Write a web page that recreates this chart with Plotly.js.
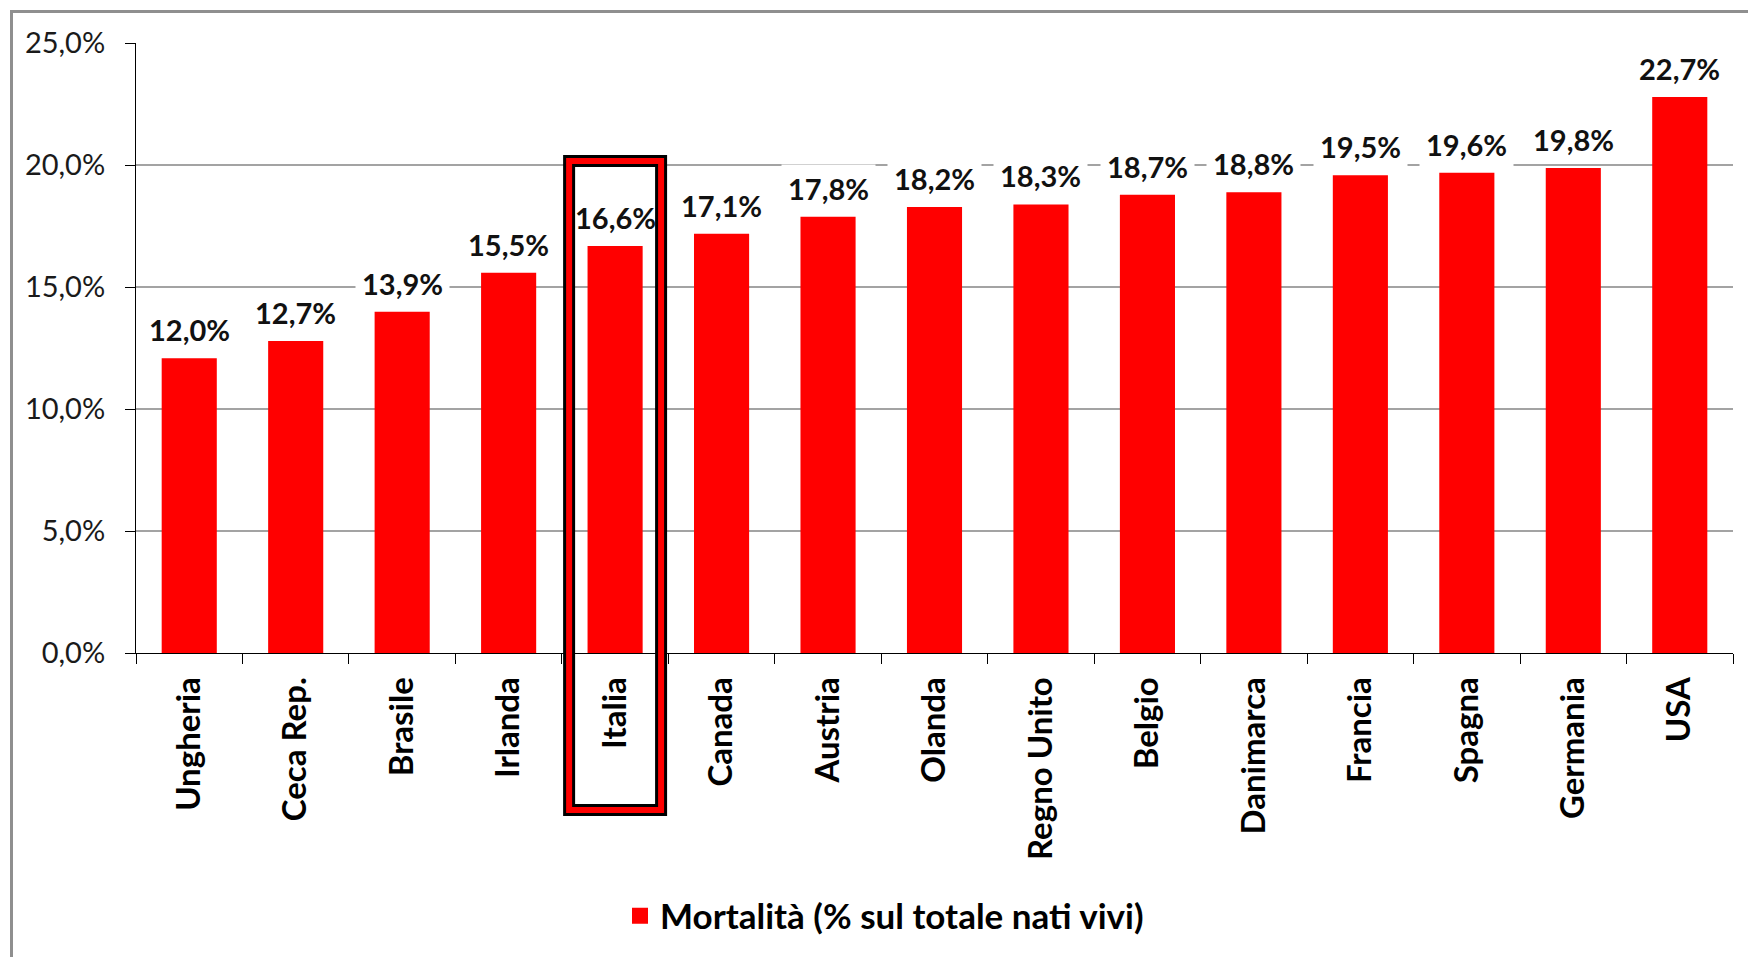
<!DOCTYPE html>
<html>
<head>
<meta charset="utf-8">
<script src="https://cdn.plot.ly/plotly-3.0.1.min.js"></script>
<style>html,body{margin:0;padding:0;background:#fff;}#chart{width:1748px;height:957px;}</style>
</head>
<body>
<div id="chart"></div>
<script>
const categories = ["Ungheria","Ceca Rep.","Brasile","Irlanda","Italia","Canada","Austria","Olanda","Regno Unito","Belgio","Danimarca","Francia","Spagna","Germania","USA"];
const mortalita = [12.0,12.7,13.9,15.5,16.6,17.1,17.8,18.2,18.3,18.7,18.8,19.5,19.6,19.8,22.7];
const seriesName = "Mortalità (% sul totale nati vivi)";
const yTickValues = [0,5,10,15,20,25];
const highlighted = "Italia";

const W = 1748, H = 957;
const mL = 136, mR = 15, mT = 43, mB = 304;
const plotW = W - mL - mR, plotH = H - mT - mB;
const px2paperX = p => (p - mL) / plotW;
const px2paperY = p => (H - mB - p) / plotH;

const fmt = v => v.toFixed(1).replace('.', ',') + '%';
const FONT = 'Lato, "Liberation Sans", sans-serif';

const trace = {
  type: 'bar',
  x: categories,
  y: mortalita,
  name: seriesName,
  width: 0.48,
  marker: {color: '#ff0000', line: {color: '#ff0000', width: 4}},
  showlegend: true,
  hoverinfo: 'skip'
};

const annotations = categories.map((c, i) => ({
  x: c, y: mortalita[i], xref: 'x', yref: 'y',
  text: '<b>' + fmt(mortalita[i]) + '</b>',
  showarrow: false, yanchor: 'bottom', xanchor: 'center',
  yshift: 6, borderpad: 6,
  bgcolor: c === highlighted ? 'rgba(0,0,0,0)' : '#ffffff',
  font: {family: FONT, size: 29, color: '#111111'}
}));

const hi = categories.indexOf(highlighted);
const half = 0.432;
const boxY0 = px2paperY(810), boxY1 = px2paperY(161);
const shapes = [
  {type: 'rect', xref: 'x', yref: 'paper', x0: hi - half, x1: hi + half, y0: boxY0, y1: boxY1,
   line: {color: '#000000', width: 12}, fillcolor: 'rgba(0,0,0,0)', layer: 'above'},
  {type: 'rect', xref: 'x', yref: 'paper', x0: hi - half, x1: hi + half, y0: boxY0, y1: boxY1,
   line: {color: '#ff0000', width: 6}, fillcolor: 'rgba(0,0,0,0)', layer: 'above'},
  {type: 'rect', xref: 'paper', yref: 'paper',
   x0: px2paperX(11.5), x1: px2paperX(1800), y0: px2paperY(1000), y1: px2paperY(11.5),
   line: {color: '#8f8f8f', width: 3}, fillcolor: 'rgba(0,0,0,0)', layer: 'below'}
];

const layout = {
  width: W, height: H, autosize: false,
  margin: {l: mL, r: mR, t: mT, b: mB, pad: 0},
  paper_bgcolor: '#ffffff', plot_bgcolor: '#ffffff',
  separators: ',.',
  font: {family: FONT, color: '#111111'},
  xaxis: {
    type: 'category',
    showline: true, linecolor: '#000000', linewidth: 1,
    ticks: 'outside', ticklen: 10, tickcolor: '#000000', tickwidth: 1,
    tickson: 'boundaries', tickangle: -90,
    ticklabelstandoff: 10,
    showgrid: false, zeroline: false,
    tickfont: {family: FONT, size: 33, color: '#000000', weight: 'bold'},
    range: [-0.5, categories.length - 0.5]
  },
  yaxis: {
    range: [0, 25], tickvals: yTickValues,
    ticktext: yTickValues.map(v => v.toFixed(1).replace('.', ',') + '%'),
    showline: true, linecolor: '#000000', linewidth: 1,
    ticks: 'outside', ticklen: 10, tickcolor: '#000000', tickwidth: 1,
    ticklabelstandoff: 14,
    showgrid: true, gridcolor: '#a3a3a3', gridwidth: 1.5,
    zeroline: false,
    tickfont: {family: FONT, size: 29, color: '#1a1a1a'}
  },
  legend: {
    orientation: 'h', x: px2paperX(620), xanchor: 'left',
    y: px2paperY(916), yanchor: 'middle',
    font: {family: FONT, size: 35, color: '#000000', weight: 'bold'},
    bgcolor: 'rgba(0,0,0,0)'
  },
  annotations: annotations,
  shapes: shapes,
  bargap: 0.5
};

Plotly.newPlot('chart', [trace], layout, {displayModeBar: false, staticPlot: true});
</script>
</body>
</html>
